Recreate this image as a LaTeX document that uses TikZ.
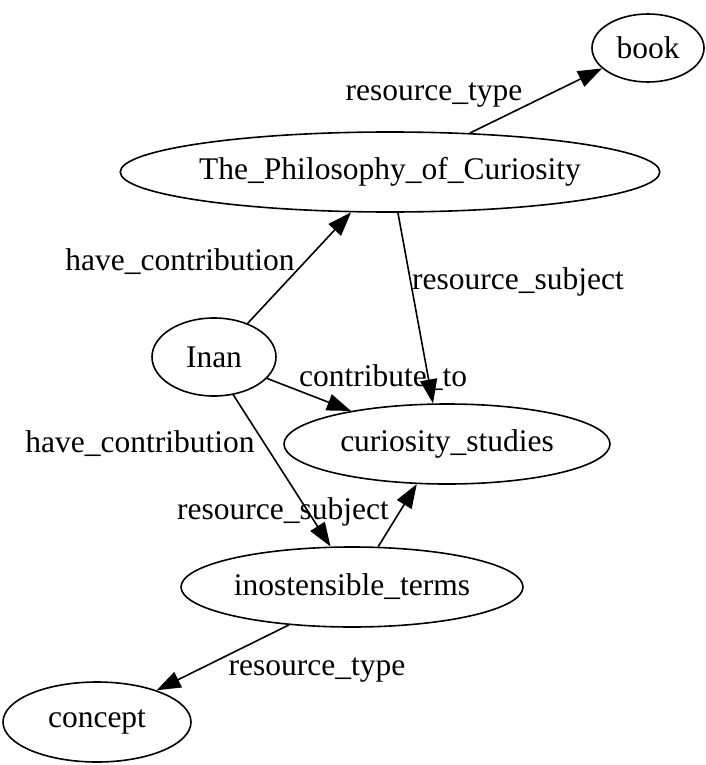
\documentclass[tikz,border=0pt]{standalone}
\usepackage{fontspec}
\setmainfont{Liberation Serif}
\usetikzlibrary{shapes.geometric,arrows.meta}
\begin{document}
\begin{tikzpicture}[x=1pt,y=-1pt,
  every node/.style={font=\fontsize{31.5}{36}\selectfont},
  entity/.style={ellipse,draw,line width=1.6pt,inner sep=0pt},
  lbl/.style={inner sep=0pt},
  rel/.style={line width=1.6pt,-{Triangle[length=24pt,width=17pt]}}]
\useasboundingbox (0,0) rectangle (706,765);

% entities
\node[entity,minimum width=112pt,minimum height=68pt] (book) at (648,48) {book};
\node[entity,minimum width=536pt,minimum height=80pt] (phil) at (390,172) {The\_Philosophy\_of\_Curiosity};
\node[entity,minimum width=124pt,minimum height=78pt] (inan) at (214,357) {Inan};
\node[entity,minimum width=326pt,minimum height=80pt] (cur) at (447,444) {curiosity\_studies};
\node[entity,minimum width=342pt,minimum height=80pt] (ino) at (352,587) {inostensible\_terms};
\node[entity,minimum width=188pt,minimum height=80pt] (concept) at (97,722) {concept};

% relations
\draw[rel] (phil.26) -- (book.204);
\draw[rel] (inan.45) -- (phil.226.5);
\draw[rel] (phil.281.3) -- (cur.109.3);
\draw[rel] (inan.338) -- (cur.161);
\draw[rel] (inan.297.8) -- (ino.118.8);
\draw[rel] (ino.57) -- (cur.233.4);
\draw[rel] (ino.211) -- (concept.28);

% relation labels
\node[lbl] (l1) at (434,95) {resource\_type};
\node[lbl] (l2) at (180,262) {have\_contribution};
\node[lbl] (l3) at (518,282) {resource\_subject};
\node[lbl] (l4) at (383,378) {contribute\_to};
\node[lbl] (l5) at (140,444) {have\_contribution};
\node[lbl] (l6) at (283,512) {resource\_subject};
\node[lbl] (l7) at (317,670) {resource\_type};
\end{tikzpicture}
\end{document}
